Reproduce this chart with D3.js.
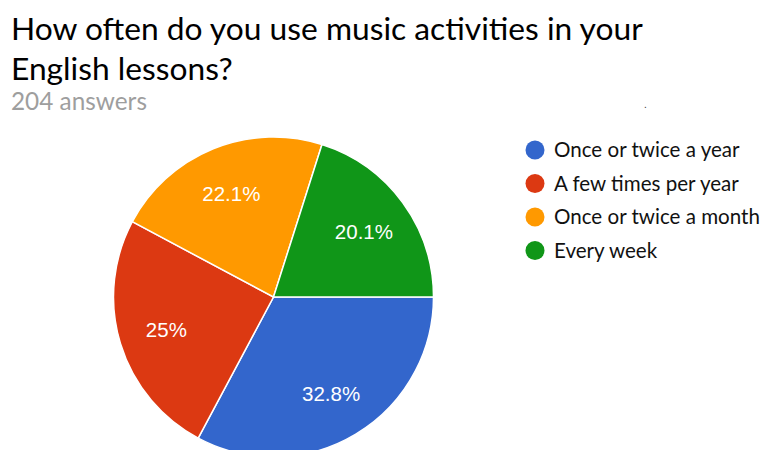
<!DOCTYPE html>
<html>
<head>
<meta charset="utf-8">
<script src="https://cdn.jsdelivr.net/npm/d3@7"></script>
<style>
  html, body { margin: 0; padding: 0; background: #fff; }
  svg { display: block; }
</style>
</head>
<body>
<svg id="chart" width="762" height="450"></svg>
<script>
// Survey responses
const categories = ["Once or twice a year", "A few times per year", "Once or twice a month", "Every week"];
const percents = [32.8, 25, 22.1, 20.1];
const labels = ["32.8%", "25%", "22.1%", "20.1%"];
const colors = ["#3366cc", "#dc3912", "#ff9900", "#109618"];
const titleLines = ["How often do you use music activities in your", "English lessons?"];
const subtitle = "204 answers";

const svg = d3.select("#chart");
const titleFont = "Lato, 'Open Sans', sans-serif";
const bodyFont = "'Liberation Sans', Arial, sans-serif";

// scale a text element so that it spans the given width
function fitWidth(sel, base, width) {
  sel.attr("font-size", base);
  const w = sel.node().getComputedTextLength();
  const size = base * width / w;
  sel.attr("font-size", size);
  return size;
}

// Title, two lines
const t1 = svg.append("text")
  .attr("x", 11).attr("y", 40)
  .attr("font-family", titleFont)
  .attr("fill", "#000")
  .text(titleLines[0]);
const titleSize = fitWidth(t1, 26, 632);
svg.append("text")
  .attr("x", 11).attr("y", 80)
  .attr("font-family", titleFont).attr("font-size", titleSize)
  .attr("fill", "#000")
  .text(titleLines[1]);
const sub = svg.append("text")
  .attr("x", 11).attr("y", 110)
  .attr("font-family", titleFont)
  .attr("fill", "#9e9e9e")
  .text(subtitle);
fitWidth(sub, 20, 136);
svg.append("text")
  .attr("x", 644).attr("y", 108)
  .attr("font-family", bodyFont).attr("font-size", 10)
  .attr("fill", "#333")
  .text(".");

// Pie, starting at 3 o'clock and running clockwise
const cx = 273.5, cy = 297, r = 160;
const data = categories.map((c, i) => ({ name: c, value: percents[i], label: labels[i], color: colors[i] }));
const pie = d3.pie().value(d => d.value).sort(null)
  .startAngle(Math.PI / 2).endAngle(Math.PI / 2 + 2 * Math.PI);
const arc = d3.arc().innerRadius(0).outerRadius(r);
const labelArc = d3.arc().innerRadius(r * 0.7).outerRadius(r * 0.7);

const g = svg.append("g").attr("transform", `translate(${cx},${cy})`);
const arcs = pie(data);
g.selectAll("path.slice").data(arcs).join("path")
  .attr("class", "slice")
  .attr("d", arc)
  .attr("fill", d => d.data.color)
  .attr("stroke", "#fff")
  .attr("stroke-width", 1.5);

g.selectAll("text.lbl").data(arcs).join("text")
  .attr("class", "lbl")
  .attr("transform", d => `translate(${labelArc.centroid(d)})`)
  .attr("text-anchor", "middle")
  .attr("dy", "0.38em")
  .attr("font-family", bodyFont).attr("font-size", 20.5)
  .attr("fill", "#fff")
  .text(d => d.data.label);

// Legend
const legend = svg.append("g").attr("transform", "translate(535,150)");
const item = legend.selectAll("g").data(data).join("g")
  .attr("transform", (d, i) => `translate(0,${i * 33.5})`);
item.append("circle").attr("r", 9.5).attr("fill", d => d.color);
const legendText = item.append("text")
  .attr("x", 19).attr("dy", "0.35em")
  .attr("font-family", titleFont)
  .attr("fill", "#111")
  .text(d => d.name);
// size legend type from its longest entry
const probe = legendText.filter((d, i) => i === 2);
const legendSize = fitWidth(probe, 17, 206);
legendText.attr("font-size", legendSize);
</script>
</body>
</html>
